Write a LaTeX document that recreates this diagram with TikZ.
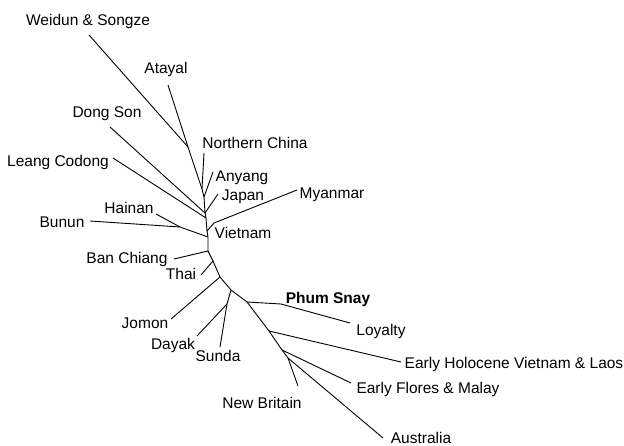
\documentclass[tikz,border=0pt]{standalone}
\usepackage{fontspec}
\setmainfont{Liberation Sans}
\begin{document}
\begin{tikzpicture}[x=1pt,y=-1pt,
  edge/.style={line width=0.9pt, line join=round},
  lbl/.style={anchor=base, inner sep=0pt, font=\fontsize{15.5}{18}\selectfont}]
\useasboundingbox (0,0) rectangle (624,446);
% stem vertices
\coordinate (a1) at (188,147);
\coordinate (a2) at (202,189);
\coordinate (a3) at (204,197);
\coordinate (a4) at (205,213);
\coordinate (a5) at (206,218);
\coordinate (a6) at (207,231);
\coordinate (a7) at (208,237);
\coordinate (a8) at (208,251);
\coordinate (a9) at (213,261);
\coordinate (a10) at (220,277);
\coordinate (a11) at (231,290);
\coordinate (a12) at (247,302);
\coordinate (a13) at (269,331);
\coordinate (a14) at (282,350);
\coordinate (a15) at (288,358);
% side vertices
\coordinate (vn) at (214,223);
\coordinate (hb) at (180,227);
\coordinate (ds) at (227,304);
\coordinate (ps) at (281,304);
% leaf tips
\coordinate (tWeidun) at (89,35);
\coordinate (tAtayal) at (168,85);
\coordinate (tNChina) at (204,153);
\coordinate (tAnyang) at (213,172);
\coordinate (tDongSon) at (110,127);
\coordinate (tJapan) at (218,194);
\coordinate (tLeang) at (113,158);
\coordinate (tMyanmar) at (297,190);
\coordinate (tHainan) at (156,214);
\coordinate (tBunun) at (90,221);
\coordinate (tBanChiang) at (174,259);
\coordinate (tThai) at (201,275);
\coordinate (tJomon) at (171,319);
\coordinate (tDayak) at (197,336);
\coordinate (tSunda) at (220,347);
\coordinate (tLoyalty) at (350,323);
\coordinate (tEHolo) at (401,362);
\coordinate (tEFlores) at (351,383);
\coordinate (tNBritain) at (298,386);
\coordinate (tAustralia) at (383,438);
% stem
\draw[edge] (a1) -- (a2) -- (a3) -- (a4) -- (a5) -- (a6) -- (a7) -- (a8) -- (a9) -- (a10) -- (a11) -- (a12) -- (a13) -- (a14) -- (a15);
% branches
\draw[edge] (tWeidun) -- (a1);
\draw[edge] (tAtayal) -- (a1);
\draw[edge] (tNChina) -- (a2);
\draw[edge] (tAnyang) -- (a3);
\draw[edge] (tDongSon) -- (a4);
\draw[edge] (tJapan) -- (a4);
\draw[edge] (tLeang) -- (a5);
\draw[edge] (a6) -- (vn) -- (tMyanmar);
\draw[edge] (a7) -- (hb) -- (tHainan);
\draw[edge] (hb) -- (tBunun);
\draw[edge] (tBanChiang) -- (a8);
\draw[edge] (tThai) -- (a9);
\draw[edge] (tJomon) -- (a10);
\draw[edge] (a11) -- (ds) -- (tSunda);
\draw[edge] (ds) -- (tDayak);
\draw[edge] (a12) -- (ps) -- (tLoyalty);
\draw[edge] (a13) -- (tEHolo);
\draw[edge] (a14) -- (tEFlores);
\draw[edge] (a15) -- (tNBritain);
\draw[edge] (a15) -- (tAustralia);
% labels
\node[lbl] (lWeidun) at (88,26) {Weidun \& Songze};
\node[lbl] (lAtayal) at (166,74) {Atayal};
\node[lbl] (lDongSon) at (107,118) {Dong Son};
\node[lbl] (lNChina) at (255,149) {Northern China};
\node[lbl] (lLeang) at (58,167) {Leang Codong};
\node[lbl] (lAnyang) at (242,182) {Anyang};
\node[lbl] (lJapan) at (243,201) {Japan};
\node[lbl] (lMyanmar) at (332,199) {Myanmar};
\node[lbl] (lHainan) at (129,214) {Hainan};
\node[lbl] (lBunun) at (62,228) {Bunun};
\node[lbl] (lVietnam) at (243,239) {Vietnam};
\node[lbl] (lBanChiang) at (127,264) {Ban Chiang};
\node[lbl] (lThai) at (181,280) {Thai};
\node[lbl,font=\fontsize{15.5}{18}\selectfont\bfseries] (lPhumSnay) at (328,304) {Phum Snay};
\node[lbl] (lJomon) at (145,329) {Jomon};
\node[lbl] (lLoyalty) at (381,336) {Loyalty};
\node[lbl] (lDayak) at (173,349) {Dayak};
\node[lbl] (lSunda) at (218,362) {Sunda};
\node[lbl] (lEHolo) at (514,369) {Early Holocene Vietnam \& Laos};
\node[lbl] (lEFlores) at (428,393) {Early Flores \& Malay};
\node[lbl] (lNBritain) at (262,408) {New Britain};
\node[lbl] (lAustralia) at (421,443) {Australia};
\end{tikzpicture}
\end{document}
